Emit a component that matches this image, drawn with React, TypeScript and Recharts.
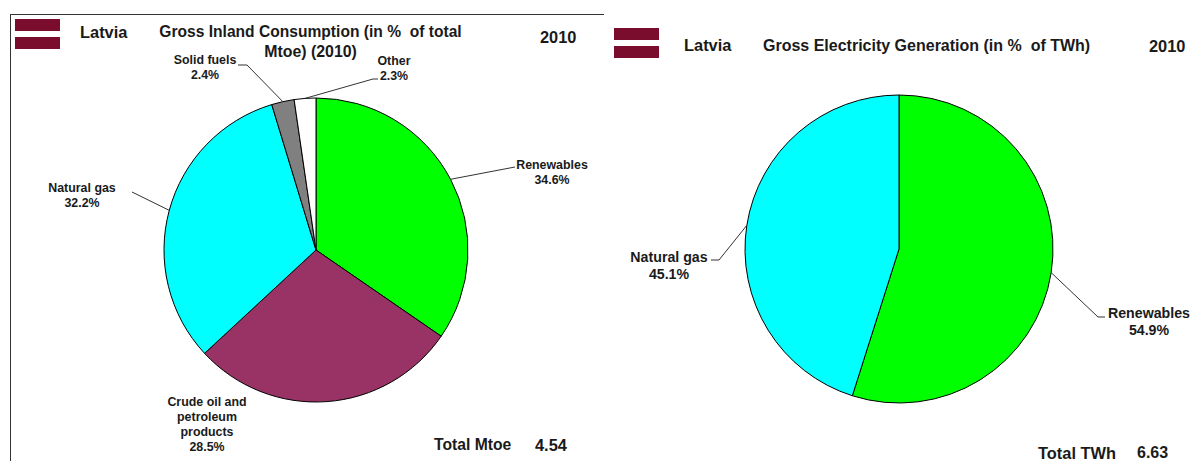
import React from "react";
import { PieChart, Pie, Cell } from "recharts";

const consumptionNames = ["Renewables", "Crude oil and petroleum products", "Natural gas", "Solid fuels", "Other"];
const consumptionValues = [34.6, 28.5, 32.2, 2.4, 2.3];
const consumptionColors = ["#00ff00", "#993366", "#00ffff", "#808080", "#ffffff"];
const generationNames = ["Renewables", "Natural gas"];
const generationValues = [54.9, 45.1];
const generationColors = ["#00ff00", "#00ffff"];

const consumptionData = consumptionNames.map((name, i) => ({ name, value: consumptionValues[i] }));
const generationData = generationNames.map((name, i) => ({ name, value: generationValues[i] }));

const FONT = '"Liberation Sans", Arial, sans-serif';
const INK = "#1a1a1a";
const RAD = Math.PI / 180;

type Lay = { lines: string[]; x: number; y: number; elbow?: [number, number][] };

const consumptionLayout: Record<string, Lay> = {
  "Renewables": { lines: ["Renewables", "34.6%"], x: 552, y: 169, elbow: [[515, 167]] },
  "Crude oil and petroleum products": { lines: ["Crude oil and", "petroleum", "products", "28.5%"], x: 207, y: 406 },
  "Natural gas": { lines: ["Natural gas", "32.2%"], x: 82, y: 192, elbow: [[132, 192]] },
  "Solid fuels": { lines: ["Solid fuels", "2.4%"], x: 205, y: 64, elbow: [[247, 65], [238, 65]] },
  "Other": { lines: ["Other", "2.3%"], x: 394, y: 65, elbow: [[373, 79], [378, 79]] },
};
const generationLayout: Record<string, Lay> = {
  "Renewables": { lines: ["Renewables", "54.9%"], x: 1149, y: 318, elbow: [[1098, 317], [1105, 317]] },
  "Natural gas": { lines: ["Natural gas", "45.1%"], x: 669, y: 262, elbow: [[719, 260], [711, 260]] },
};

const makeLabel = (layout: Record<string, Lay>, size: number, step: number) => (p: any) => {
  const lay = layout[p.name];
  if (!lay) return null;
  const sx = p.cx + p.outerRadius * Math.cos(-p.midAngle * RAD);
  const sy = p.cy + p.outerRadius * Math.sin(-p.midAngle * RAD);
  const pts = lay.elbow ? [[sx, sy], ...lay.elbow] : null;
  return (
    <g>
      {pts && <polyline points={pts.map((q) => q.join(",")).join(" ")} fill="none" stroke="#333" strokeWidth={1} />}
      <text x={lay.x} textAnchor="middle" fontFamily={FONT} fontWeight={700} fontSize={size} fill={INK}>
        {lay.lines.map((l, i) => (
          <tspan key={i} x={lay.x} y={lay.y + i * step}>{l}</tspan>
        ))}
      </text>
    </g>
  );
};

const abs = (left: number, top: number, size: number, extra: React.CSSProperties = {}): React.CSSProperties => ({
  position: "absolute", left, top, fontFamily: FONT, fontWeight: 700, fontSize: size, color: INK, whiteSpace: "pre", lineHeight: 1, ...extra,
});

const Flag = ({ x, y, w }: { x: number; y: number; w: number }) => (
  <>
    <div style={{ position: "absolute", left: x, top: y, width: w, height: 12, background: "#7a0c2e" }} />
    <div style={{ position: "absolute", left: x, top: y + 18, width: w, height: 12, background: "#7a0c2e" }} />
  </>
);

export default function App() {
  return (
    <div style={{ position: "absolute", left: 0, top: 0, width: 1192, height: 461, background: "#fff", overflow: "hidden" }}>
      <PieChart width={1192} height={461} margin={{ top: 0, right: 0, bottom: 0, left: 0 }} style={{ position: "absolute", left: 0, top: 0 }}>
        <Pie data={consumptionData} dataKey="value" nameKey="name" cx={316} cy={250} outerRadius={152} startAngle={90} endAngle={-270}
          stroke="#000" strokeWidth={1} isAnimationActive={false} labelLine={false} label={makeLabel(consumptionLayout, 12.4, 15)}>
          {consumptionColors.map((c) => <Cell key={c} fill={c} />)}
        </Pie>
        <Pie data={generationData} dataKey="value" nameKey="name" cx={899} cy={249} outerRadius={154} startAngle={90} endAngle={-270}
          stroke="#000" strokeWidth={1} isAnimationActive={false} labelLine={false} label={makeLabel(generationLayout, 14.2, 17)}>
          {generationColors.map((c) => <Cell key={c} fill={c} />)}
        </Pie>
      </PieChart>

      <div style={{ position: "absolute", left: 10, top: 14, width: 594, height: 1, background: "#333" }} />
      <div style={{ position: "absolute", left: 10, top: 14, width: 1, height: 447, background: "#333" }} />

      <Flag x={15} y={19} w={45} />
      <div style={abs(80, 24, 16.4)}>Latvia</div>
      <div style={{ ...abs(150, 24, 15.6), width: 321, textAlign: "center" }}>Gross Inland Consumption (in %  of total</div>
      <div style={{ ...abs(150, 44, 15.9), width: 321, textAlign: "center" }}>Mtoe) (2010)</div>
      <div style={abs(540, 29, 16.4)}>2010</div>
      <div style={abs(434, 437, 15.7)}>Total Mtoe</div>
      <div style={abs(535, 437, 16.4)}>4.54</div>

      <Flag x={614} y={28} w={45} />
      <div style={abs(684, 37, 16.4)}>Latvia</div>
      <div style={abs(763, 38, 16)}>Gross Electricity Generation (in %  of TWh)</div>
      <div style={abs(1149, 38, 16.4)}>2010</div>
      <div style={abs(1038, 446, 16.4, { lineHeight: 0.9 })}>Total TWh</div>
      <div style={abs(1137, 446, 16, { lineHeight: 0.9 })}>6.63</div>
    </div>
  );
}
